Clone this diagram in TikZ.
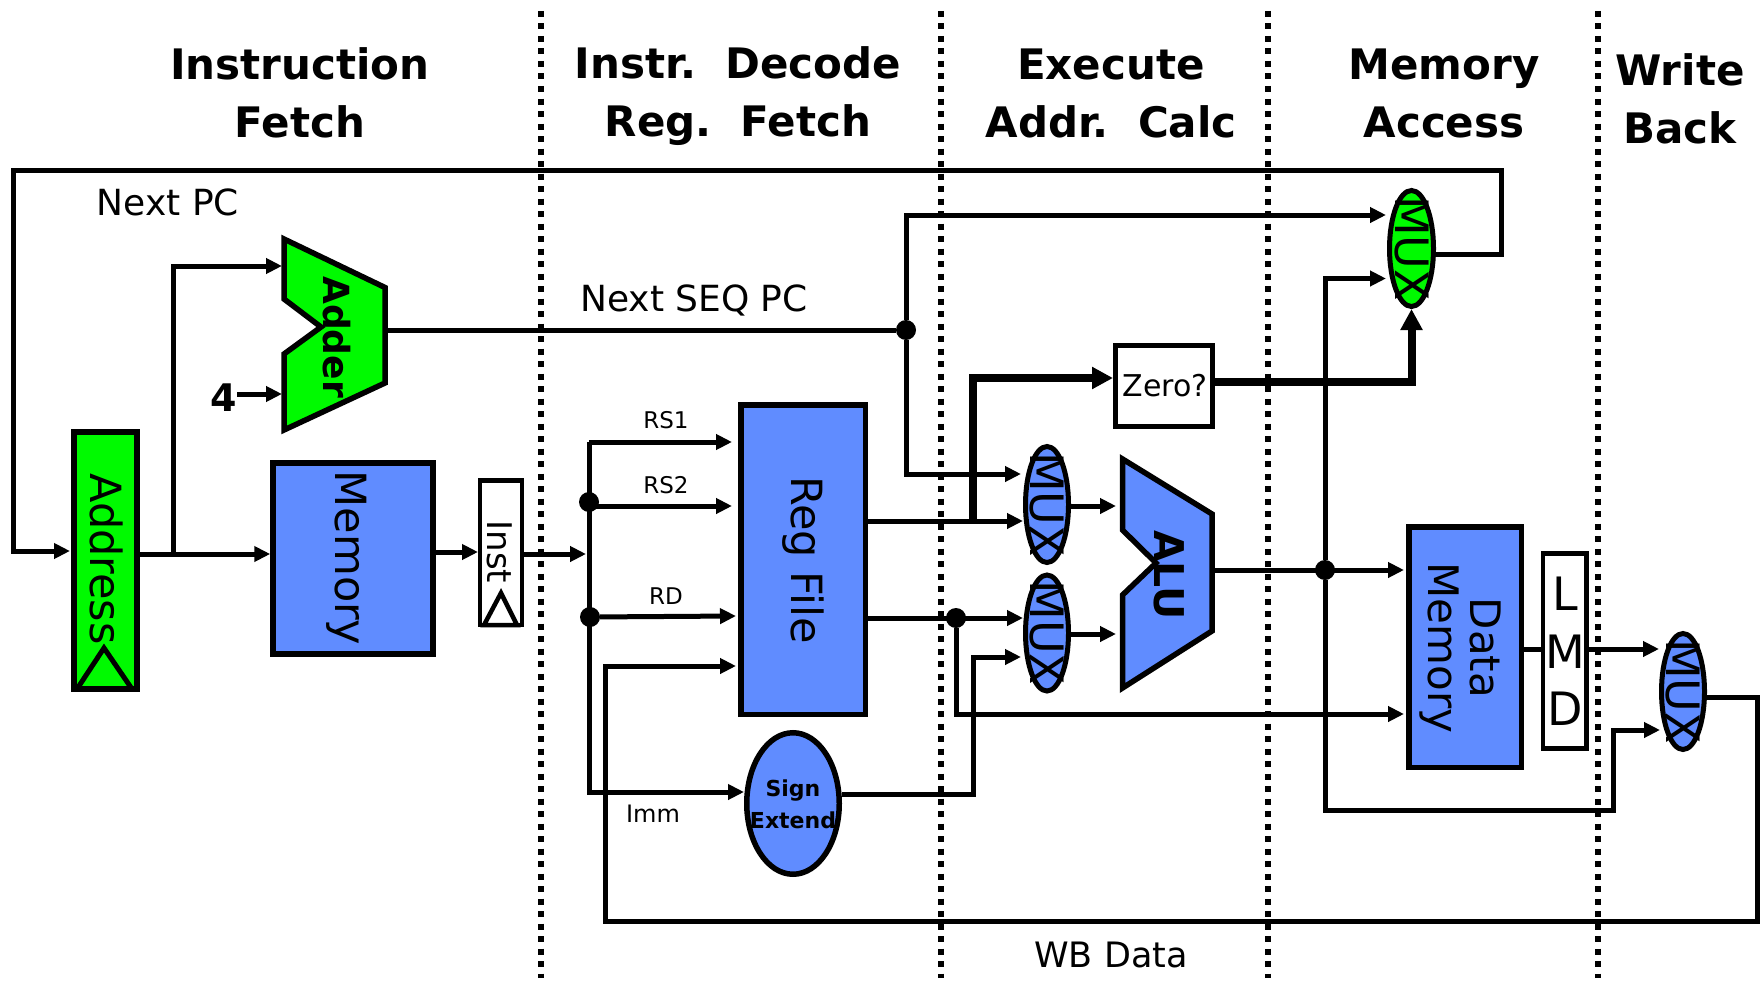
\documentclass[tikz,border=0pt]{standalone}
\usepackage{fontspec}
\setmainfont{DejaVu Sans}
\usetikzlibrary{arrows.meta,positioning,calc,shapes.geometric}

\definecolor{stagegreen}{RGB}{0,250,0}
\definecolor{stageblue}{RGB}{96,140,255}

\begin{document}
\begin{tikzpicture}[
  x=1pt, y=-1pt,
  title/.style={align=center, inner sep=0, font=\bfseries\fontsize{42}{58}\selectfont},
  note/.style={inner sep=0, font=\fontsize{#1}{#1}\selectfont},
  vlabel/.style={rotate=-90, inner sep=0, font=\fontsize{#1}{#1}\selectfont},
  vbold/.style={rotate=-90, inner sep=0, font=\bfseries\fontsize{#1}{#1}\selectfont},
  block/.style={draw, line width=5.5pt, inner sep=0, fill=stageblue},
  latch/.style={draw, line width=4.5pt, inner sep=0, fill=white},
  muxbox/.style={ellipse, draw, line width=5pt, inner sep=0, minimum width=43pt, minimum height=116pt},
  unit/.style={draw, line width=5.5pt, line join=miter},
  wire/.style={line width=5pt, line join=miter},
  bigwire/.style={line width=8pt, line join=miter},
  feed/.style={-{Triangle[length=16pt,width=15pt]}},
  bigfeed/.style={-{Triangle[length=21pt,width=21pt]}},
  joint/.style={circle, fill=black, inner sep=0, minimum size=20pt},
  stagerule/.style={line width=5.5pt, dash pattern=on 6pt off 6.5pt}
]
\useasboundingbox (0,0) rectangle (1762,982);

% stage rules and headings
\foreach \xd in {541,941,1268,1598}
  \draw[stagerule] (\xd,11) -- (\xd,978);

\node[title] (tif) at (300,93) {Instruction\\Fetch};
\node[title] (tid) at (738,96.5) {Instr.\ \ Decode\\Reg.\ \ Fetch};
\node[title] (tex) at (1111,93) {Execute\\Addr.\ \ Calc};
\node[title] (tma) at (1444,93) {Memory\\Access};
\node[title] (twb) at (1680,99) {Write\\Back};

% units
\node[block, fill=stagegreen, line width=6pt, minimum width=63pt, minimum height=257pt] (pc) at (105.5,560.5) {};
\node[block, line width=6pt, minimum width=159.5pt, minimum height=191pt] (imem) at (353,558.5) {};
\node[latch, minimum width=42pt, minimum height=144.5pt] (inst) at (501,552.5) {};
\node[block, minimum width=124.5pt, minimum height=309.5pt] (regfile) at (803,559.5) {};
\node[block, ellipse, minimum width=92.5pt, minimum height=141.5pt] (sign) at (793,803.5) {};
\node[latch, line width=5pt, minimum width=96.5pt, minimum height=80.5pt] (zero) at (1164,386) {};
\node[block, minimum width=112.5pt, minimum height=240.5pt] (dmem) at (1465,647) {};
\node[latch, minimum width=43.5pt, minimum height=195pt] (lmd) at (1564.5,651) {};
\node[muxbox, fill=stageblue] (muxa) at (1047,504.5) {};
\node[muxbox, fill=stageblue] (muxb) at (1047,633) {};
\node[muxbox, fill=stagegreen, minimum width=44pt] (muxnpc) at (1411.5,248.5) {};
\node[muxbox, fill=stageblue] (muxwb) at (1683,691.5) {};

\draw[unit, fill=stagegreen] (284,239) -- (385,287.5) -- (385,383) -- (284,430) -- (284,354) -- (321,327) -- (284,299) -- cycle;
\draw[unit, fill=stageblue] (1122.5,459) -- (1212,514) -- (1212,631) -- (1122.5,688) -- (1122.5,595) -- (1156,563) -- (1122.5,530) -- cycle;

% labels on the units
\node[vlabel=43] (pclbl) at (107,559) {Address};
\node[vlabel=43] (imemlbl) at (347,558) {Memory};
\node[vlabel=34] (instlbl) at (500,552) {Inst};
\node[vbold=36] (addlbl) at (337,337) {Adder};
\node[vlabel=43] (reglbl) at (803,560) {Reg File};
\node[vbold=41] (alulbl) at (1169,575) {ALU};
\node[vlabel=42, align=center] (dmemlbl) at (1460,648) {\fontsize{42}{57}\selectfont Data\\Memory};
\node[note=30] (zerolbl) at (1165,386) {Zero?};
\node[align=center, inner sep=0, font=\bfseries\fontsize{22}{32}\selectfont] (signlbl) at (793,804) {Sign\\Extend};
\node[note=46] (lbll) at (1565,594) {L};
\node[note=46] (lblm) at (1565,652) {M};
\node[note=46] (lbld) at (1565,709) {D};
\foreach \mx/\nm in {muxa/a,muxb/b,muxnpc/n,muxwb/w}
  \node[vlabel=46] (lbl\nm) at (\mx) {MUX};

% clock marks
\draw[line width=5pt, line join=miter] (77,689) -- (104,648) -- (132,689) -- cycle;
\draw[line width=4.5pt, line join=miter] (484,625) -- (501,593) -- (517,625) -- cycle;

% joints and pins
\node[joint] (seqdot) at (906,330) {};
\node[joint] (rs2dot) at (589,502) {};
\node[joint] (rddot) at (590,617) {};
\node[joint] (qbdot) at (956,618) {};
\node[joint] (aludot) at (1325,570) {};

\coordinate (pcin) at (70,551);
\coordinate (pcbus) at (173,554);
\coordinate (npcturn) at (1501,254);
\coordinate (npctop) at (13,170);
\coordinate (addpina) at (282,266);
\coordinate (addpinb) at (282,394);
\coordinate (addout) at (385,330);
\coordinate (fetchout) at (478,552);
\coordinate (busin) at (586,554);
\coordinate (bustop) at (589,442);
\coordinate (rs1pin) at (732,442);
\coordinate (rs2pin) at (732,506);
\coordinate (rdpin) at (736,616);
\coordinate (wbpin) at (736,666);
\coordinate (signpin) at (744,792);
\coordinate (signturn) at (973,794);
\coordinate (npcina) at (1386,215);
\coordinate (npcinb) at (1386,278.5);
\coordinate (muxapin) at (1021,474);
\coordinate (muxbpin) at (1021,657);
\coordinate (qa) at (973,521);
\coordinate (zeroin) at (1113,378);
\coordinate (zeroturn) at (1411.5,382);
\coordinate (aluina) at (1116,506);
\coordinate (aluinb) at (1116,634);
\coordinate (aluout) at (1212,570);
\coordinate (dmema) at (1404,570);
\coordinate (dmemb) at (1404,714);
\coordinate (bypassturn) at (1613,810);
\coordinate (wbmuxin) at (1660,730);
\coordinate (lmdrail) at (1600,649);
\coordinate (wbturn) at (1757,697);
\coordinate (wbrail) at (605,921);

% wires
\draw[wire, feed] (muxnpc.east |- npcturn) -- (npcturn) |- (npctop) |- (pcin);
\draw[wire, feed] (pc.east |- pcbus) -- (imem.west |- pcbus);
\draw[wire, feed] (pcbus) |- (addpina);
\node[note=38, font=\bfseries\fontsize{38}{38}\selectfont] (four) at (224,398) {4};
\draw[wire, feed] (four.east |- addpinb) -- (addpinb);
\draw[wire] (addout) -- (seqdot);
\draw[wire, feed] (seqdot) |- (npcina);
\draw[wire, feed] (seqdot) |- (muxapin);
\draw[wire, feed] (imem.east |- fetchout) -- (fetchout);
\draw[wire, feed] (inst.east |- busin) -- (busin);
\draw[wire, feed] (bustop) -- (rs1pin);
\draw[wire, feed] (bustop) |- (signpin);
\draw[wire, feed] (rs2dot |- rs2pin) -- (rs2pin);
\draw[wire, feed] (rddot) -- (rdpin);
\draw[wire, feed] (wbturn -| muxwb.east) -- (wbturn) |- (wbrail) |- (wbpin);
\draw[wire, feed] (regfile.east |- qa) -- (muxa.west |- qa);
\draw[wire, feed] (regfile.east |- qbdot) -- (muxb.west |- qbdot);
\draw[wire, feed] (qbdot) |- (dmemb);
\draw[wire, feed] (sign.east |- signturn) -- (signturn) |- (muxbpin);
\draw[wire, feed] (muxa.east |- aluina) -- (aluina);
\draw[wire, feed] (muxb.east |- aluinb) -- (aluinb);
\draw[wire, feed] (aluout) -- (dmema);
\draw[wire, feed] (aludot) |- (npcinb);
\draw[wire, feed] (aludot) |- (bypassturn) |- (wbmuxin);
\draw[wire] (dmem.east |- lmdrail) -- (lmd.west |- lmdrail);
\draw[wire, feed] (lmd.east |- lmdrail) -- (muxwb.west |- lmdrail);
\draw[bigwire, bigfeed] (qa) |- (zeroin);
\draw[bigwire, bigfeed] (zero.east |- zeroturn) -- (zeroturn) -- (muxnpc.south);

% wire names
\node[note=36] (npclbl) at (168,202) {Next PC};
\node[note=36] (seqlbl) at (694,300) {Next SEQ PC};
\node[note=23] (rs1lbl) at (666,420) {RS1};
\node[note=23] (rs2lbl) at (666,485) {RS2};
\node[note=23] (rdlbl) at (666,596) {RD};
\node[note=24] (immlbl) at (653,814) {Imm};
\node[note=35] (wblbl) at (1111,955) {WB Data};

\end{tikzpicture}
\end{document}
